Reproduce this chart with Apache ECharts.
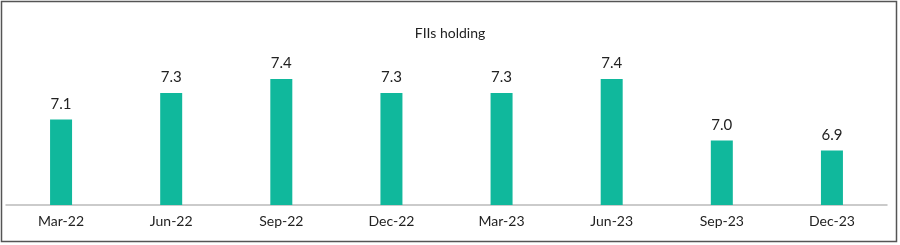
<!DOCTYPE html>
<html><head><meta charset="utf-8">
<script src="https://cdn.jsdelivr.net/npm/echarts@6/dist/echarts.min.js"></script>
<style>html,body{margin:0;padding:0;background:#fff}#c{width:900px;height:245px;position:relative}</style>
</head><body><div id="c"></div>
<script>
const categories = ["Mar-22","Jun-22","Sep-22","Dec-22","Mar-23","Jun-23","Sep-23","Dec-23"];
const values = [7.11, 7.30, 7.40, 7.30, 7.30, 7.40, 6.96, 6.89];
const title = "FIIs holding";
const chart = echarts.init(document.getElementById('c'));
chart.setOption({
  animation:false,
  graphic:[{type:'rect',shape:{x:1.5,y:1.5,width:895,height:240},style:{fill:'none',stroke:'#555',lineWidth:1.5}}],
  title:{text:title,left:'center',top:21,textStyle:{fontFamily:'Lato',fontWeight:'normal',fontSize:14,color:'#222'}},
  grid:{left:6,right:13,top:51,bottom:40},
  xAxis:{type:'category',data:categories,axisTick:{show:false},
    axisLine:{lineStyle:{color:'#bbb',width:1.5}},
    axisLabel:{color:'#222',fontSize:14,fontFamily:'Lato',margin:9}},
  yAxis:{type:'value',min:6.5,max:7.6,show:false,splitLine:{show:false}},
  series:[{type:'bar',data:values,barWidth:22,itemStyle:{color:'#10b89c'},
    label:{show:true,position:'top',distance:8,color:'#222',fontSize:15,fontFamily:'Lato',formatter:p=>p.value.toFixed(1)}}]
});
</script></body></html>
